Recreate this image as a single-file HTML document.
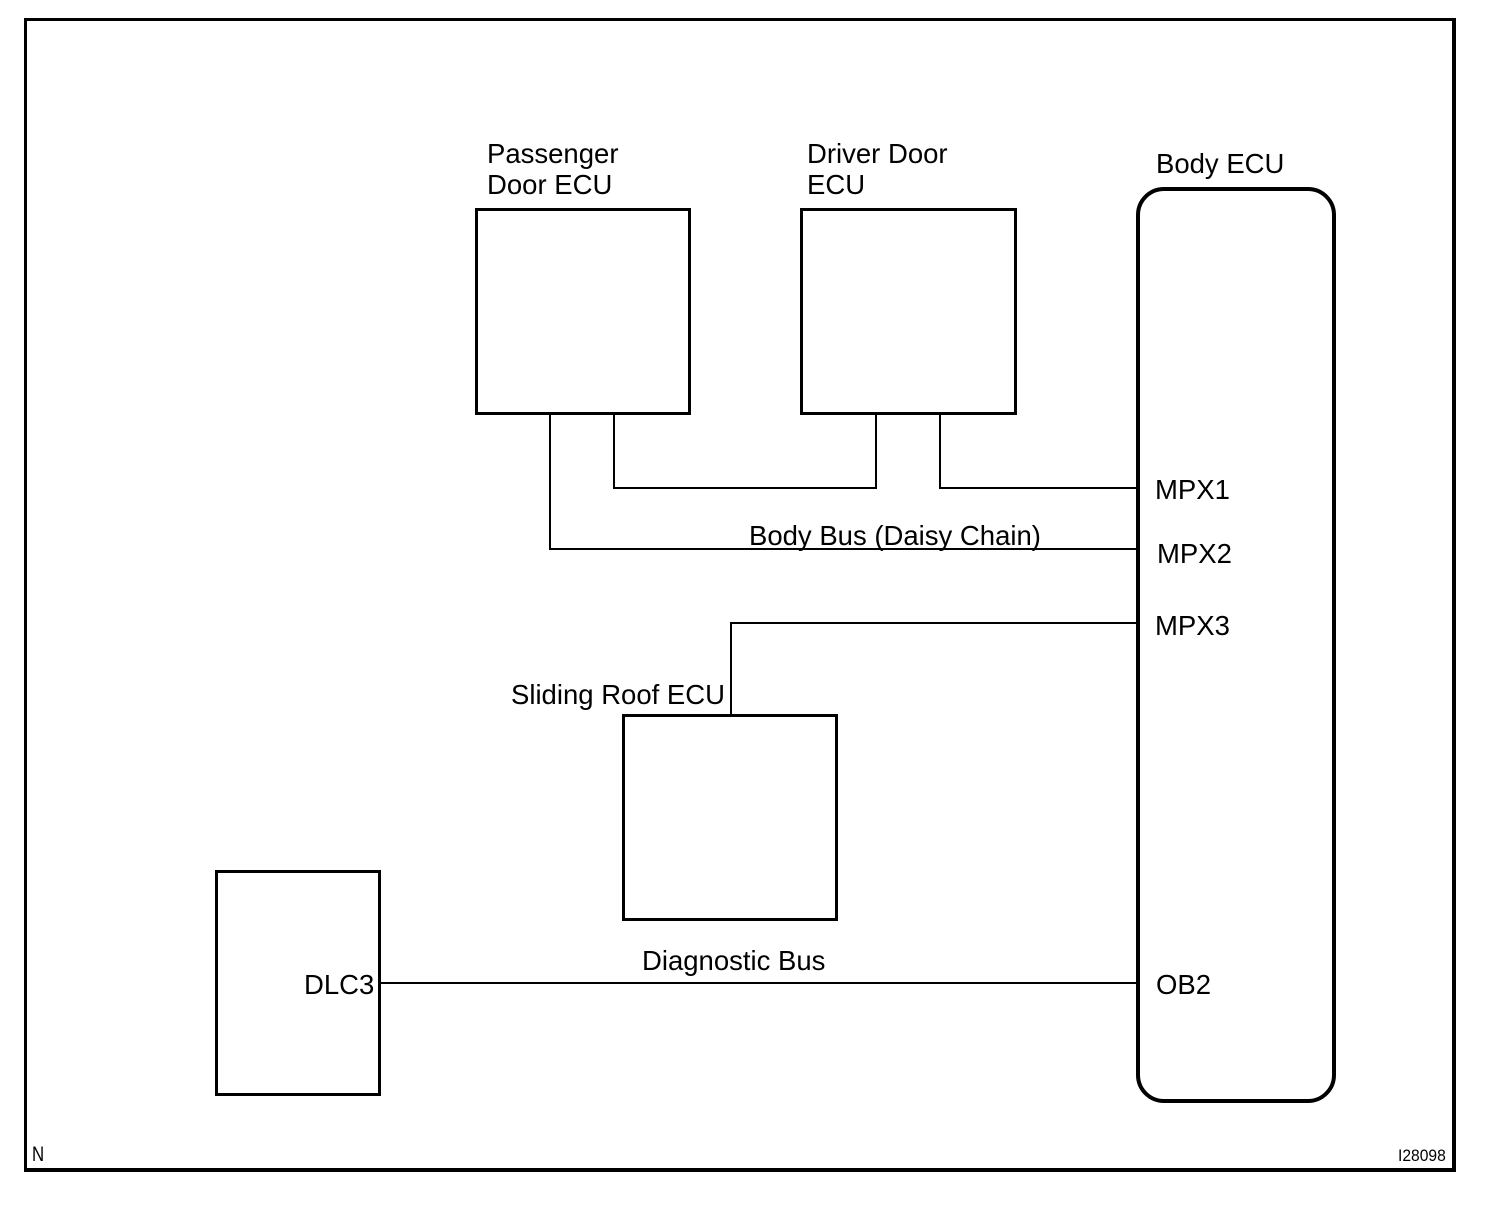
<!DOCTYPE html>
<html><head><style>html,body{margin:0;padding:0;background:#fff}svg{display:block}</style></head><body>
<svg width="1504" height="1206" viewBox="0 0 1504 1206" xmlns="http://www.w3.org/2000/svg" font-family="Liberation Sans, sans-serif">
<rect width="1504" height="1206" fill="#fff"/>
<rect x="25.5" y="19.5" width="1429" height="1151" fill="none" stroke="#000" stroke-width="3"/>
<line x1="25" y1="1170" x2="1456" y2="1170" stroke="#000" stroke-width="4"/>
<line x1="1454" y1="19" x2="1454" y2="1172" stroke="#000" stroke-width="4"/>
<g fill="none" stroke="#000" stroke-width="3">
<rect x="476.5" y="209.5" width="213" height="204"/>
<rect x="801.5" y="209.5" width="214" height="204"/>
<rect x="623.5" y="715.5" width="213" height="204"/>
<rect x="216.5" y="871.5" width="163" height="223"/>
</g>
<rect x="1138" y="189" width="196" height="912" rx="26" ry="26" fill="none" stroke="#000" stroke-width="4"/>
<g fill="none" stroke="#000" stroke-width="2">
<polyline points="550,414 550,549 1137,549"/>
<polyline points="614,414 614,488 876,488 876,414"/>
<polyline points="940,414 940,488 1137,488"/>
<polyline points="731,715 731,623 1137,623"/>
<line x1="380" y1="983" x2="1137" y2="983"/>
</g>
<g font-size="27.5" fill="#000">
<text x="487" y="163">Passenger</text>
<text x="487" y="194">Door ECU</text>
<text x="807" y="163">Driver Door</text>
<text x="807" y="194">ECU</text>
<text x="1156" y="173">Body ECU</text>
<text x="1155" y="499">MPX1</text>
<text x="1157" y="563">MPX2</text>
<text x="1155" y="635">MPX3</text>
<text x="1156" y="994">OB2</text>
<text x="304" y="994">DLC3</text>
<text x="642" y="970">Diagnostic Bus</text>
<text x="749" y="545">Body Bus (Daisy Chain)</text>
<text x="511" y="704">Sliding Roof ECU</text>
</g>
<text x="32" y="1161" font-size="21" transform="translate(32,0) scale(0.8,1) translate(-32,0)">N</text>
<text x="1398" y="1161" font-size="17" transform="translate(1398,0) scale(0.92,1) translate(-1398,0)">I28098</text>
</svg>
</body></html>
